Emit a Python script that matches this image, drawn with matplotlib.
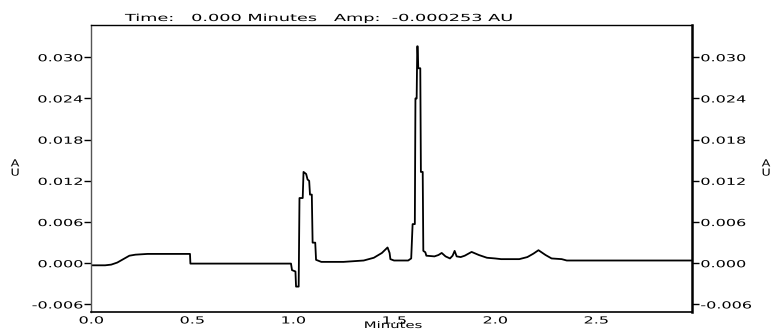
import matplotlib
matplotlib.use("Agg")
import matplotlib.pyplot as plt
from matplotlib.patheffects import AbstractPathEffect
from matplotlib.transforms import Affine2D

# chromatogram trace
time_min = [0.00, 0.07, 0.10, 0.13, 0.16, 0.19, 0.22, 0.28, 0.49, 0.492,
            0.99, 0.995, 1.012, 1.015, 1.028, 1.032, 1.048, 1.052, 1.065, 1.072,
            1.080, 1.084, 1.093, 1.097, 1.110, 1.114, 1.14, 1.25, 1.35, 1.40,
            1.44, 1.468, 1.478, 1.482, 1.50, 1.57, 1.585, 1.592, 1.603, 1.606,
            1.612, 1.615, 1.617, 1.620, 1.630, 1.633, 1.642, 1.645, 1.655, 1.66,
            1.70, 1.72, 1.736, 1.755, 1.777, 1.79, 1.80, 1.81, 1.83, 1.85,
            1.884, 1.92, 1.96, 2.00, 2.03, 2.12, 2.16, 2.19, 2.215, 2.25,
            2.28, 2.33, 2.355, 2.975]
amp_au = [-0.00030, -0.00030, -0.00020, 0.00010, 0.00060, 0.00110, 0.00125, 0.00136, 0.00136, -0.00005,
          -0.00005, -0.0010, -0.0012, -0.0034, -0.0034, 0.0095, 0.0095, 0.0133, 0.0130, 0.0122,
          0.0120, 0.0100, 0.0100, 0.0030, 0.0030, 0.0005, 0.0002, 0.0002, 0.0004, 0.0008,
          0.0015, 0.0023, 0.0015, 0.0006, 0.0004, 0.0004, 0.0007, 0.0057, 0.0057, 0.0240,
          0.0240, 0.0316, 0.0316, 0.0284, 0.0284, 0.0133, 0.0133, 0.0018, 0.0016, 0.0011,
          0.0010, 0.0012, 0.0015, 0.0010, 0.0007, 0.0011, 0.0018, 0.0010, 0.0009, 0.0011,
          0.00165, 0.0012, 0.0008, 0.0007, 0.0006, 0.0006, 0.0009, 0.0014, 0.0019, 0.0012,
          0.0007, 0.0006, 0.0004, 0.0004]

x_ticks = [0.0, 0.5, 1.0, 1.5, 2.0, 2.5]
y_ticks = [-0.006, 0.000, 0.006, 0.012, 0.018, 0.024, 0.030]
title_txt = "Time:   0.000 Minutes   Amp:  -0.000253 AU"


class Stretch(AbstractPathEffect):
    # widen the glyphs horizontally, like the old instrument font
    def __init__(self, sx, anchor="left"):
        super().__init__()
        self.sx = sx
        self.anchor = anchor

    def draw_path(self, renderer, gc, tpath, affine, rgbFace=None):
        v = tpath.vertices
        ref = 0.0
        if len(v):
            lo, hi = v[:, 0].min(), v[:, 0].max()
            if self.anchor == "right":
                ref = hi
            elif self.anchor == "center":
                ref = (lo + hi) / 2
        t = Affine2D().translate(-ref, 0).scale(self.sx, 1).translate(ref, 0) + affine
        renderer.draw_path(gc, tpath, t, rgbFace)


plt.rcParams['font.family'] = ['DejaVu Sans']
fs = 7
sx = 1.65

fig = plt.figure(figsize=(7.72, 3.31), dpi=100)
ax = fig.add_axes([91 / 772, 19 / 331, 601 / 772, 287 / 331])
ax.plot(time_min, amp_au, color="black", lw=1.3)

ax.set_xlim(0, 2.975)
ax.set_ylim(-0.0071, 0.0347)
ax.set_xticks(x_ticks)
ax.set_xticklabels([f"{v:.1f}" for v in x_ticks], fontsize=fs)
ax.set_yticks(y_ticks)
ax.set_yticklabels([f"{v:.3f}" for v in y_ticks], fontsize=fs)
ax.tick_params(axis="x", length=0, pad=2.5)
ax.tick_params(axis="y", direction="out", length=5, width=1, pad=1,
               left=True, right=True, labelleft=True, labelright=True)

for lab in ax.get_xticklabels():
    lab.set_path_effects([Stretch(sx, "center")])
for lab in ax.yaxis.get_ticklabels():
    lab.set_path_effects([Stretch(sx, "right")])
for tk in ax.yaxis.get_major_ticks():
    tk.label2.set_path_effects([Stretch(sx, "left")])

ax.spines["left"].set_linewidth(1.0)
ax.spines["left"].set_color("#555555")
ax.spines["top"].set_linewidth(1.0)
ax.spines["bottom"].set_linewidth(1.2)
ax.spines["right"].set_linewidth(1.8)

fig.text(125 / 772, 1 - 21 / 331, title_txt, fontsize=fs, va="baseline", ha="left",
         path_effects=[Stretch(1.82, "left")])
fig.text(393 / 772, 1 / 331, "Minutes", fontsize=6.5, va="bottom", ha="center",
         path_effects=[Stretch(sx, "center")])
for xa in (15, 766):
    fig.text(xa / 772, 1 - 168 / 331, "A\nU", fontsize=fs, va="center", ha="center",
             linespacing=0.9, path_effects=[Stretch(1.3, "center")])

fig.savefig("out.png", dpi=100)
